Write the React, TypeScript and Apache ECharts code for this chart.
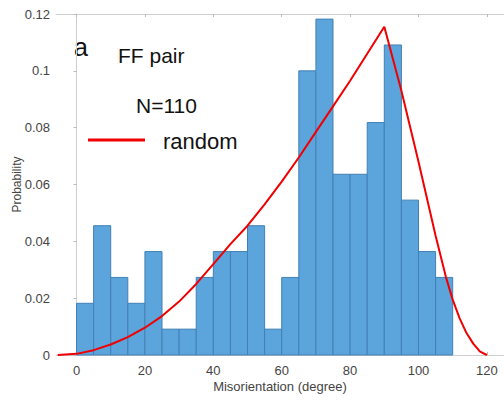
import React, { useEffect, useRef } from "react";
import * as echarts from "echarts";

const binStarts = [0, 5, 10, 15, 20, 25, 30, 35, 40, 45, 50, 55, 60, 65, 70, 75, 80, 85, 90, 95, 100, 105];
const binWidth = 5;
const probabilities = [
  0.0182, 0.0455, 0.0273, 0.0182, 0.0364, 0.0091, 0.0091, 0.0273, 0.0364, 0.0364, 0.0455,
  0.0091, 0.0273, 0.1, 0.1182, 0.0636, 0.0636, 0.0818, 0.1091, 0.0545, 0.0364, 0.0273,
];
const randomX = [-5.5, 0, 5, 10, 15, 20, 25, 30, 35, 40, 45, 50, 55, 60, 65, 70, 75, 80, 85, 90, 95, 100, 105, 108, 110, 112, 114, 116, 118, 120];
const randomY = [
  0, 0.0004, 0.0017, 0.0037, 0.0063, 0.0096, 0.0137, 0.0188, 0.025, 0.032, 0.039, 0.0455, 0.053,
  0.061, 0.0695, 0.0785, 0.0875, 0.0965, 0.106, 0.1155, 0.093, 0.068, 0.042, 0.0275, 0.0195, 0.013,
  0.0078, 0.004, 0.0012, 0,
];
const xTicks = [0, 20, 40, 60, 80, 100, 120];

export default function App() {
  const ref = useRef<HTMLDivElement>(null);
  useEffect(() => {
    document.body.style.margin = "0";
    const chart = echarts.init(ref.current!, undefined, { renderer: "svg" });
    const font = "'Liberation Sans', Arial, Helvetica, sans-serif";
    const barData = binStarts.map((s, i) => [s, s + binWidth, probabilities[i]]);
    chart.setOption({
      animation: false,
      backgroundColor: "#ffffff",
      grid: { left: 56, right: 0, top: 14, bottom: 47, show: false, containLabel: false, outerBoundsMode: "none" },
      xAxis: [
        {
          type: "value",
          min: -6,
          max: 125,
          name: "Misorientation (degree)",
          nameLocation: "middle",
          nameGap: 25,
          nameMoveOverlap: false,
          nameTextStyle: { color: "#444", fontSize: 13, fontFamily: font },
          axisLine: { show: true, lineStyle: { color: "#cfcfcf", width: 1 } },
          axisTick: { show: true, inside: true, length: 3, lineStyle: { color: "#bbb" }, customValues: xTicks },
          axisLabel: { color: "#444", fontSize: 13, fontFamily: font, margin: 9, customValues: xTicks },
          splitLine: { show: false },
        },
        {
          type: "value",
          position: "top",
          min: -6,
          max: 125,
          axisLine: { show: true, lineStyle: { color: "#cfcfcf", width: 1 } },
          axisTick: { show: true, inside: true, length: 3, lineStyle: { color: "#bbb" }, customValues: xTicks },
          axisLabel: { show: false },
          splitLine: { show: false },
        },
      ],
      yAxis: {
        type: "value",
        min: 0,
        max: 0.12,
        interval: 0.02,
        name: "Probability",
        nameLocation: "middle",
        nameGap: 33,
        nameMoveOverlap: false,
        nameTextStyle: { color: "#444", fontSize: 12, fontFamily: font },
        axisLine: { show: true, lineStyle: { color: "#cfcfcf", width: 1 } },
        axisTick: { show: true, length: 3, lineStyle: { color: "#bbb" } },
        axisLabel: {
          color: "#444",
          fontSize: 13,
          fontFamily: font,
          margin: 6,
          formatter: (v: number) => (v === 0 ? "0" : String(parseFloat(v.toFixed(2)))),
        },
        splitLine: { show: false },
      },
      series: [
        {
          type: "custom",
          xAxisIndex: 0,
          data: barData,
          renderItem: (params: any, api: any) => {
            const p0 = api.coord([api.value(0), 0]);
            const p1 = api.coord([api.value(1), api.value(2)]);
            return {
              type: "rect",
              shape: { x: p0[0], y: p1[1], width: p1[0] - p0[0], height: p0[1] - p1[1] },
              style: { fill: "#5ba4dc", stroke: "#4280b4", lineWidth: 1 },
            };
          },
          z: 2,
        },
        {
          type: "line",
          xAxisIndex: 0,
          data: randomX.map((x, i) => [x, randomY[i]]),
          showSymbol: false,
          symbol: "none",
          lineStyle: { color: "#f00000", width: 2 },
          z: 3,
        },
      ],
      graphic: [
        { type: "text", x: 74, y: 47, style: { text: "a", fontSize: 25, fontFamily: font, fill: "#111", verticalAlign: "middle" } },
        { type: "text", x: 118, y: 55, style: { text: "FF pair", fontSize: 21, fontFamily: font, fill: "#111", verticalAlign: "middle" } },
        { type: "text", x: 136, y: 105.5, style: { text: "N=110", fontSize: 21, fontFamily: font, fill: "#111", verticalAlign: "middle" } },
        { type: "line", shape: { x1: 88, y1: 140, x2: 145, y2: 140 }, style: { stroke: "#f00000", lineWidth: 3 } },
        { type: "text", x: 163, y: 141, style: { text: "random", fontSize: 22, fontFamily: font, fill: "#111", verticalAlign: "middle" } },
      ],
    });
    return () => chart.dispose();
  }, []);
  return <div ref={ref} style={{ width: 504, height: 402 }} />;
}
